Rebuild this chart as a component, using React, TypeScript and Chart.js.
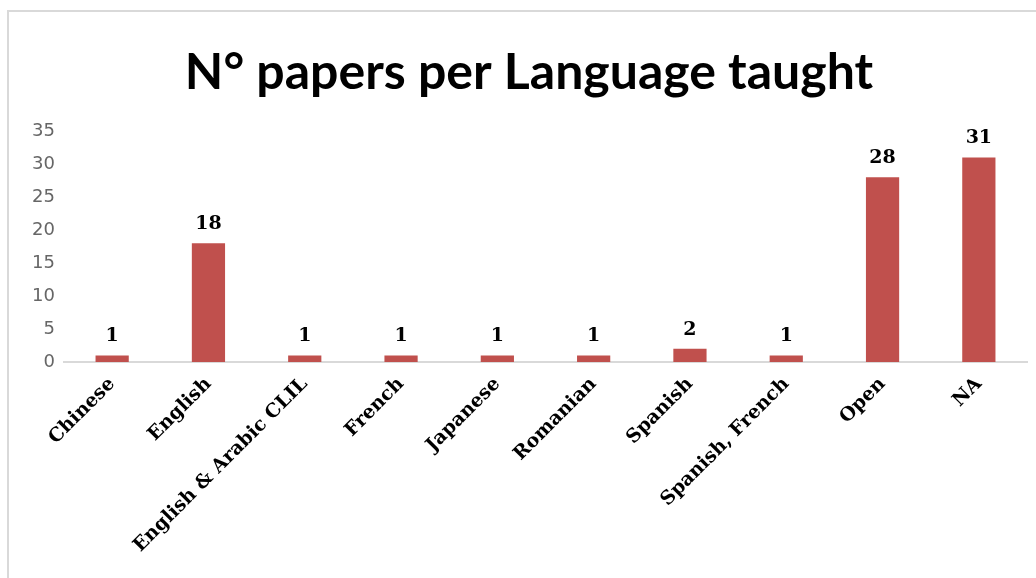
import React, { useEffect, useRef } from "react";
import { Chart, registerables } from "chart.js";

Chart.register(...registerables);

const title = "N° papers per Language taught";
const categories = [
  "Chinese",
  "English",
  "English & Arabic CLIL",
  "French",
  "Japanese",
  "Romanian",
  "Spanish",
  "Spanish, French",
  "Open",
  "NA",
];
const papers = [1, 18, 1, 1, 1, 1, 2, 1, 28, 31];
const yTicks = { min: 0, max: 35, step: 5 };

const SERIF = "'DejaVu Serif', serif";

const titlePlugin = {
  id: "customTitle",
  afterDraw(chart: any) {
    const ctx = chart.ctx;
    ctx.save();
    ctx.font = "bold 50px Lato, 'Open Sans', sans-serif";
    ctx.fillStyle = "#000";
    ctx.textAlign = "center";
    ctx.textBaseline = "alphabetic";
    ctx.fillText(title, 529, 89);
    ctx.restore();
  },
};

const labelPlugin = {
  id: "valueLabels",
  afterDatasetsDraw(chart: any) {
    const ctx = chart.ctx;
    const meta = chart.getDatasetMeta(0);
    const data = chart.data.datasets[0].data;
    ctx.save();
    ctx.font = `bold 19px ${SERIF}`;
    ctx.fillStyle = "#000";
    ctx.textAlign = "center";
    ctx.textBaseline = "alphabetic";
    meta.data.forEach((bar: any, i: number) => {
      ctx.fillText(String(data[i]), bar.x, bar.y - 14);
    });
    ctx.restore();
  },
};

export default function App() {
  const ref = useRef<HTMLCanvasElement>(null);
  useEffect(() => {
    const canvas = ref.current;
    if (!canvas) return;
    const chart = new Chart(canvas, {
      type: "bar",
      data: {
        labels: categories,
        datasets: [
          {
            data: papers,
            backgroundColor: "#c0504d",
            barPercentage: 0.345,
            categoryPercentage: 1,
          },
        ],
      },
      options: {
        animation: false,
        responsive: false,
        maintainAspectRatio: false,
        layout: { padding: { top: 131, left: 0, right: 9, bottom: 0 } },
        plugins: {
          legend: { display: false },
          title: { display: false },
          tooltip: { enabled: false },
        },
        scales: {
          x: {
            grid: { display: false },
            border: { display: true, color: "#d9d9d9", width: 2 },
            ticks: {
              color: "#000",
              font: { family: SERIF, size: 19, weight: "bold" },
              maxRotation: 45,
              minRotation: 45,
              autoSkip: false,
              padding: 3,
            },
            afterFit(scale: any) {
              scale.height = 578 - 362;
            },
          },
          y: {
            min: yTicks.min,
            max: yTicks.max,
            grid: { display: false, drawTicks: false },
            border: { display: false },
            ticks: {
              stepSize: yTicks.step,
              color: "#666666",
              font: { family: "'DejaVu Sans', sans-serif", size: 18 },
              padding: 9,
            },
            afterFit(scale: any) {
              scale.width = 64;
            },
          },
        },
      },
      plugins: [titlePlugin, labelPlugin],
    });
    return () => chart.destroy();
  }, []);

  return (
    <div
      style={{
        position: "fixed",
        left: 0,
        top: 0,
        width: 1036,
        height: 578,
        overflow: "hidden",
        background: "#fff",
      }}
    >
      <div
        style={{
          position: "absolute",
          left: 7,
          top: 10,
          width: 1100,
          height: 700,
          borderLeft: "2px solid #d9d9d9",
          borderTop: "2px solid #d9d9d9",
        }}
      />
      <canvas
        ref={ref}
        width={1036}
        height={578}
        style={{ position: "absolute", left: 0, top: 0, width: 1036, height: 578 }}
      />
    </div>
  );
}
